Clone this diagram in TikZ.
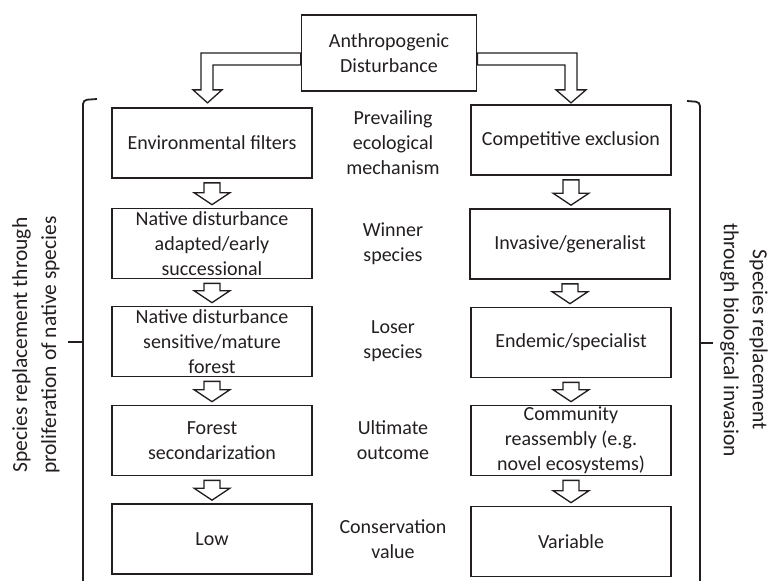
\documentclass[tikz,border=0pt]{standalone}
\usepackage{fontspec}
\setmainfont{Carlito}
\usetikzlibrary{calc}
\definecolor{ink}{HTML}{231F20}
\newcommand\boxfont{\fontsize{20}{25}\selectfont}
\newcommand\sidefont{\fontsize{21.5}{29}\selectfont}
\tikzset{
  box/.style={draw=ink, line width=1.7pt, minimum width=200pt, minimum height=70pt,
    inner sep=0pt, align=center, font=\boxfont, text=ink},
  lab/.style={align=center, font=\boxfont, inner sep=0pt, text=ink},
  side/.style={align=center, font=\sidefont, inner sep=0pt, text=ink},
  barrow/.style={draw=ink, fill=white, line width=1.3pt, line join=miter},
  bracket/.style={draw=ink, line width=1.8pt, rounded corners=4pt},
}
\newcommand\blockdown[2]{%
  \path[barrow] let \p1=(#1.south), \p2=(#2.north) in
    (\x1-8pt,\y1-4pt) -- (\x1+8pt,\y1-4pt) -- (\x1+8pt,\y2+15pt) -- (\x1+18pt,\y2+15pt)
    -- (\x1,\y2+3pt) -- (\x1-18pt,\y2+15pt) -- (\x1-8pt,\y2+15pt) -- cycle;}
\begin{document}
\begin{tikzpicture}[x=1pt,y=-1pt]
\useasboundingbox (0,0) rectangle (769,581);
% top
\node[box, minimum width=175pt, minimum height=76pt] (T) at (389,53) {Anthropogenic\\Disturbance};
% left column
\node[box] (L1) at (212,143) {Environmental filters};
\node[box] (L2) at (212,243.5) {Native disturbance\\adapted/early\\successional};
\node[box] (L3) at (212,341.5) {Native disturbance\\sensitive/mature\\forest};
\node[box] (L4) at (212,440.5) {Forest\\secondarization};
\node[box] (L5) at (212,539) {Low};
% right column
\node[box] (R1) at (571,140) {Competitive exclusion};
\node[box] (R2) at (570,244) {Invasive/generalist};
\node[box] (R3) at (571,342.5) {Endemic/specialist};
\node[box] (R4) at (571,440.5) {Community\\reassembly (e.g.\\novel ecosystems)};
\node[box] (R5) at (571,541.5) {Variable};
% middle labels
\node[lab] (M1) at (393,143) {Prevailing\\ecological\\mechanism};
\node[lab] (M2) at (393,243.5) {Winner\\species};
\node[lab] (M3) at (393,341.5) {Loser\\species};
\node[lab] (M4) at (393,440.5) {Ultimate\\outcome};
\node[lab] (M5) at (393,539) {Conservation\\value};
% top L-shaped arrows
\path[barrow] let \p1=(T.west), \p2=(T.south), \p3=(L1.north) in
  (\x1,\y1) -- (\x3-11pt,\y1) -- (\x3-11pt,\y2+2pt) -- (\x3-19pt,\y2+2pt)
  -- (\x3-4.5pt,\y2-11pt) -- (\x3+10pt,\y2+2pt) -- (\x3+1pt,\y2+2pt)
  -- (\x3+1pt,\y1-12pt) -- (\x1,\y1-12pt) -- cycle;
\path[barrow] let \p1=(T.east), \p2=(T.south), \p3=(R1.north) in
  (\x1,\y1) -- (\x3+6pt,\y1) -- (\x3+6pt,\y2+2pt) -- (\x3+15pt,\y2+2pt)
  -- (\x3,\y2-11pt) -- (\x3-15pt,\y2+2pt) -- (\x3-6pt,\y2+2pt)
  -- (\x3-6pt,\y1-12pt) -- (\x1,\y1-12pt) -- cycle;
% column arrows
\blockdown{L1}{L2}
\blockdown{L2}{L3}
\blockdown{L3}{L4}
\blockdown{L4}{L5}
\blockdown{R1}{R2}
\blockdown{R2}{R3}
\blockdown{R3}{R4}
\blockdown{R4}{R5}
% brackets
\draw[bracket] (97,99) -- (83,100) -- (83,581);
\draw[bracket] (83,342) -- (68,342);
\draw[bracket] (687,101) -- (700,102) -- (700,581);
\draw[bracket] (700,343) -- (713,343);
% side texts
\node[side, rotate=90] (SL) at (36,345) {Species replacement through\\proliferation of native species};
\node[side, rotate=-90] (SR) at (744,340) {Species replacement\\through biological invasion};
\end{tikzpicture}
\end{document}
